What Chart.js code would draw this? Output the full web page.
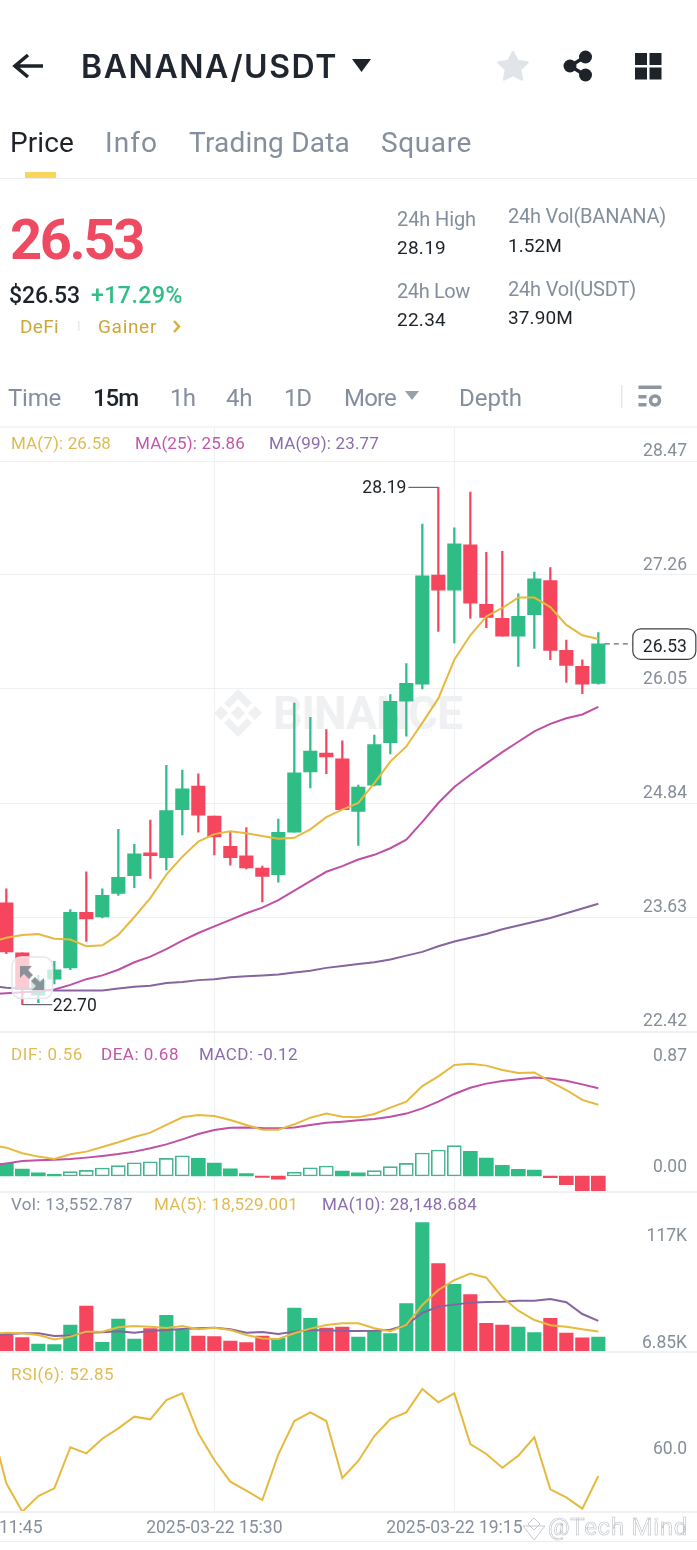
<!DOCTYPE html>
<html>
<head>
<meta charset="utf-8">
<title>BANANA/USDT</title>
<script src="https://cdn.jsdelivr.net/npm/chart.js@4"></script>
<style>
    html, body { margin: 0; padding: 0; background: #fff; }
    body { position: relative; width: 697px; height: 1550px; overflow: hidden; font-family: Roboto, sans-serif; }
    canvas { position: absolute; left: -130px; }
    .t { position: absolute; white-space: nowrap; line-height: 1; transform: translateY(-50%); }
    .rule { position: absolute; left: 0; width: 697px; }
    svg.layer { position: absolute; left: 0; top: 0; }
</style>
</head>
<body>
<svg class="layer" id="logoLayer" width="697" height="1550">
    <g fill="#eff0f2">
        <polygon points="238,706 245,713 238,720 231,713"/>
        <polygon points="221,706 228,713 221,720 214,713"/>
        <polygon points="255,706 262,713 255,720 248,713"/>
        <polygon points="238,689 252,703 247,708 238,699 229,708 224,703"/>
        <polygon points="238,737 252,723 247,718 238,727 229,718 224,723"/>
    </g>
</svg>
<div id="wm"></div>
<canvas id="mainChart" width="833" height="664" style="top:398px"></canvas>
<canvas id="macdChart" width="833" height="220" style="top:1002px"></canvas>
<canvas id="volChart" width="833" height="220" style="top:1162px"></canvas>
<canvas id="rsiChart" width="833" height="230" style="top:1322px"></canvas>

<div class="rule" style="top:178px;height:1px;background:#eaecef"></div>
<div class="rule" style="top:426px;height:2px;background:#f4f5f7"></div>
<div class="rule" style="top:1032px;height:1px;background:#eef0f2"></div>
<div class="rule" style="top:1191px;height:2px;background:#f1f2f4"></div>
<div class="rule" style="top:1351px;height:2px;background:#f1f2f4"></div>
<div class="rule" style="top:1511px;height:2px;background:#f1f2f4"></div>
<div class="rule" style="top:1541px;height:1px;background:#eaecef"></div>

<svg class="layer" width="697" height="1550">
    <path d="M43 66 H16 M28 55 L15 66 L28 77" fill="none" stroke="#1e2329" stroke-width="3.6"/>
    <polygon points="352,59 371,59 361.5,72" fill="#1e2329"/>
    <polygon points="513,52 517.5,61 527.5,62.5 520,69.5 522,79.5 513,75 504,79.5 506,69.5 498.500,62.500 508.500,61" fill="#e1e4e8" stroke="#e1e4e8" stroke-width="2.500" stroke-linejoin="round"/>
    <path d="M585 57 L570 66 L585 75" fill="none" stroke="#1e2329" stroke-width="3.500"/>
    <circle cx="570" cy="66" r="6.500" fill="#1e2329"/>
    <circle cx="585.500" cy="57" r="6.500" fill="#1e2329"/>
    <circle cx="585.500" cy="75" r="6.500" fill="#1e2329"/>
    <rect x="635" y="53" width="12" height="12" fill="#1e2329"/>
    <rect x="649.500" y="53" width="12" height="12" fill="#1e2329"/>
    <rect x="635" y="67.500" width="12" height="12" fill="#1e2329"/>
    <rect x="649.500" y="67.500" width="12" height="12" fill="#1e2329"/>
    <rect x="25" y="172" width="31" height="6" fill="#f8d65c"/>
    <rect x="78" y="321" width="1.500" height="10" fill="#e8eaed"/>
    <polyline points="174,321 179,326.500 174,332" fill="none" stroke="#d4b13e" stroke-width="2.500"/>
    <polygon points="405,391 419,391 412,400" fill="#9aa1ab"/>
    <rect x="621" y="385" width="1.500" height="23" fill="#e6e8ea"/>
    <g fill="#8e96a2">
        <rect x="638.500" y="385.500" width="23" height="3.500"/>
        <rect x="638.500" y="395" width="8" height="3.500"/>
        <rect x="638.500" y="403" width="8" height="3.500"/>
    </g>
    <circle cx="655" cy="400.500" r="4.500" fill="none" stroke="#8e96a2" stroke-width="3.500"/>

    <!-- zoom button over the chart -->
    <rect x="12" y="957" width="40.500" height="41.500" rx="9" fill="rgba(255,255,255,.72)" stroke="#e6e8ea" stroke-width="1.500"/>
    <g fill="#8d9199">
        <polygon points="20,966 32,966 28,970 33,975 29,979 24,974 20,978"/>
        <polygon points="44,990 32,990 36,986 31,981 35,977 40,982 44,978"/>
    </g>
    <!-- corner stamp -->
    <g fill="#fff" stroke="#c4c8cc" stroke-width="1">
        <polygon points="534,1518 540,1524 534,1530 528,1524"/>
        <polygon points="534,1526 545,1526 534,1540 523,1526" fill="none"/>
    </g>
</svg>

<script>
// candles, slot 0 is the first candle on the left
const candleOpen = [23.78, 23.25, 22.80, 22.97, 23.09, 23.68, 23.63, 23.88, 24.07, 24.31, 24.26, 24.77, 25.02, 24.70, 24.38, 24.28, 24.15, 24.08, 24.53, 25.17, 25.37, 25.31, 24.75, 25.03, 25.48, 25.92, 26.10, 27.26, 27.10, 27.58, 26.95, 26.80, 26.61, 26.84, 27.20, 26.46, 26.29, 26.11];
const candleClose = [23.26, 22.86, 22.96, 23.07, 23.68, 23.61, 23.86, 24.05, 24.30, 24.28, 24.76, 24.99, 24.71, 24.48, 24.26, 24.15, 24.06, 24.53, 25.16, 25.39, 25.33, 24.77, 25.01, 25.46, 25.92, 26.11, 27.25, 27.10, 27.59, 26.96, 26.81, 26.61, 26.82, 27.22, 26.46, 26.30, 26.10, 26.53];
const candleHigh = [23.93, 23.25, 23.01, 23.16, 23.71, 24.11, 23.93, 24.56, 24.40, 24.66, 25.24, 25.19, 25.15, 24.70, 24.54, 24.58, 24.17, 24.67, 25.90, 25.75, 25.62, 25.50, 25.03, 25.56, 25.99, 26.32, 27.80, 28.19, 27.76, 28.14, 27.50, 27.51, 27.06, 27.29, 27.34, 26.57, 26.36, 26.65];
const candleLow = [23.24, 22.70, 22.72, 22.92, 23.07, 23.37, 23.62, 23.86, 23.94, 24.04, 24.13, 24.50, 24.53, 24.29, 24.18, 24.14, 23.79, 24.00, 24.53, 25.00, 25.15, 24.77, 24.39, 25.02, 25.36, 25.55, 26.05, 26.66, 26.54, 26.80, 26.70, 26.61, 26.29, 26.48, 26.36, 26.12, 26.00, 26.10];

// the lines start one slot earlier, off the left edge of the screen
const ma7 = [23.36, 23.41, 23.44, 23.45, 23.40, 23.39, 23.32, 23.33, 23.44, 23.63, 23.83, 24.08, 24.27, 24.43, 24.51, 24.54, 24.52, 24.49, 24.46, 24.47, 24.56, 24.69, 24.77, 24.84, 25.05, 25.28, 25.44, 25.69, 25.95, 26.36, 26.62, 26.82, 26.91, 27.02, 27.02, 26.92, 26.73, 26.62, 26.58];
const ma25 = [22.81, 22.82, 22.83, 22.84, 22.86, 22.91, 22.97, 23.01, 23.07, 23.15, 23.21, 23.29, 23.38, 23.46, 23.53, 23.60, 23.67, 23.73, 23.81, 23.91, 24.01, 24.11, 24.17, 24.24, 24.29, 24.36, 24.45, 24.64, 24.84, 25.01, 25.14, 25.26, 25.38, 25.49, 25.60, 25.68, 25.74, 25.78, 25.86];
const ma99 = [22.90, 22.88, 22.87, 22.86, 22.85, 22.85, 22.85, 22.85, 22.87, 22.89, 22.90, 22.93, 22.94, 22.96, 22.97, 22.99, 23.00, 23.01, 23.02, 23.04, 23.06, 23.09, 23.11, 23.13, 23.15, 23.18, 23.22, 23.26, 23.32, 23.37, 23.41, 23.45, 23.50, 23.54, 23.58, 23.62, 23.67, 23.72, 23.77];

const dif = [0.243, 0.222, 0.178, 0.152, 0.133, 0.170, 0.191, 0.227, 0.264, 0.306, 0.340, 0.400, 0.460, 0.478, 0.470, 0.439, 0.400, 0.363, 0.363, 0.405, 0.457, 0.489, 0.465, 0.460, 0.486, 0.536, 0.583, 0.705, 0.781, 0.870, 0.880, 0.865, 0.831, 0.807, 0.812, 0.739, 0.674, 0.596, 0.559];
const dea = [0.081, 0.099, 0.118, 0.123, 0.128, 0.133, 0.144, 0.157, 0.172, 0.191, 0.217, 0.248, 0.287, 0.329, 0.361, 0.379, 0.381, 0.376, 0.374, 0.381, 0.400, 0.418, 0.426, 0.436, 0.447, 0.465, 0.489, 0.530, 0.583, 0.643, 0.692, 0.724, 0.745, 0.758, 0.771, 0.765, 0.747, 0.718, 0.687];
const macd = [0.099, 0.055, 0.024, 0.013, 0.034, 0.044, 0.063, 0.081, 0.104, 0.112, 0.138, 0.159, 0.138, 0.102, 0.057, 0.018, -0.012, -0.024, 0.029, 0.065, 0.078, 0.039, 0.024, 0.042, 0.073, 0.099, 0.180, 0.204, 0.238, 0.193, 0.141, 0.084, 0.052, 0.047, -0.013, -0.068, -0.123, -0.123];

// volume in thousands
const volK = [15.06, 12.95, 7.23, 6.62, 24.39, 41.55, 8.73, 29.81, 11.74, 21.08, 33.12, 19.87, 14.45, 13.85, 9.94, 8.43, 14.45, 12.35, 39.75, 30.41, 21.68, 22.58, 13.55, 18.97, 16.56, 43.66, 117, 79.8, 61.1, 51.8, 25.9, 24.4, 22.6, 17.5, 30.4, 17.2, 12.9, 13.55];
const volMa5 = [16.3, 17.5, 16.9, 15.4, 11.4, 13.9, 18.4, 18.4, 22.3, 23.5, 22.9, 21.7, 23.5, 20.5, 22.0, 19.9, 15.4, 12.3, 11.7, 16.9, 21.1, 24.4, 25.9, 25.9, 21.4, 18.7, 24.4, 42.5, 56.0, 65.0, 70.8, 67.1, 49.4, 37.3, 28.9, 24.1, 22.9, 20.5, 18.529];
const volMa10 = [15.1, 16.0, 16.9, 16.9, 14.5, 14.8, 17.5, 17.8, 18.7, 17.5, 19.0, 19.9, 20.8, 21.4, 22.0, 20.5, 17.5, 18.1, 16.3, 18.4, 19.6, 19.6, 19.0, 19.0, 19.3, 20.2, 24.4, 35.5, 41.0, 42.8, 44.6, 45.2, 45.5, 46.4, 46.4, 47.9, 44.9, 34.3, 28.149];

const rsi6 = [74.4, 49.95, 38.7, 44.92, 47.96, 64.23, 61.85, 67.67, 71.77, 76.4, 75.34, 83.02, 85.66, 69.79, 59.21, 50.61, 47.04, 43.33, 61.46, 74.68, 78.12, 74.68, 52.06, 58.81, 68.73, 75.48, 78.12, 87.38, 82.09, 85.66, 65.56, 61.59, 56.16, 60.93, 68.2, 47.57, 44.39, 39.89, 52.86];

const priceTicks = [22.42, 23.63, 24.84, 26.05, 27.26, 28.47];
const macdTicks = [0, 0.87];
const rsiTicks = [60];
const timeTicks = ['2025-03-22 11:45', '2025-03-22 15:30', '2025-03-22 19:15'];
const lastPrice = 26.53;

const green = '#2ebd85';
const red = '#f6465d';
const yellow = '#e6b93f';
const pink = '#bf50a6';
const purple = '#86659f';
const gridColor = '#eef0f2';
const tickColor = '#868e9a';
const fontName = 'Roboto, sans-serif';
const tickSize = 17.5;

// slots run from -8 to 43 so the 11:45 label and the free space on the right fit
const firstSlot = -8;
const slotCount = 52;
const categories = [];
for (let i = 0; i < slotCount; i++) {
    const mins = 15 * 60 + 30 + (i + firstSlot - 13) * 15;
    const hh = String(Math.floor(mins / 60)).padStart(2, '0');
    const mm = String(mins % 60).padStart(2, '0');
    categories.push('2025-03-22 ' + hh + ':' + mm);
}

function pad(values, start) {
    const out = new Array(slotCount).fill(null);
    values.forEach((v, k) => { out[start + k - firstSlot] = v; });
    return out;
}

function isUp(slot) {
    const k = slot + firstSlot;
    return candleClose[k] >= candleOpen[k];
}

function lineSet(data, color, order) {
    return { type: 'line', data: pad(data, -1), borderColor: color, borderWidth: 2, pointRadius: 0, tension: 0, order: order };
}

function timeAxis(showLabels) {
    return {
        offset: true,
        afterBuildTicks: function (s) {
            s.ticks = s.ticks.filter(t => timeTicks.includes(categories[t.value]));
        },
        afterFit: function (s) {
            if (showLabels) s.height = 40;
        },
        grid: { offset: false, color: gridColor, drawTicks: false },
        border: { display: false },
        ticks: { display: showLabels, autoSkip: false, maxRotation: 0, padding: 6, color: tickColor, font: { family: fontName, size: tickSize } }
    };
}

function valueAxis(min, max, values, offset, label, showGrid) {
    return {
        position: 'right',
        min: min,
        max: max,
        afterBuildTicks: function (s) {
            s.ticks = values.map(v => ({ value: v }));
        },
        // labels float over the plot, the axis must not take any width
        afterFit: function (s) {
            s.width = 0;
        },
        grid: { display: showGrid, color: gridColor, drawTicks: false },
        border: { display: false },
        ticks: { mirror: true, autoSkip: false, padding: -15.3, labelOffset: offset, color: tickColor, font: { family: fontName, size: tickSize }, callback: label }
    };
}

function makeChart(id, datasets, scales, padBottom, plugins) {
    return new Chart(document.getElementById(id), {
        type: 'bar',
        data: { labels: categories, datasets: datasets },
        plugins: plugins || [],
        options: {
            responsive: false,
            animation: false,
            devicePixelRatio: 1,
            events: [],
            layout: { padding: { left: 0.33, right: 0.67, top: 30, bottom: padBottom } },
            datasets: { bar: { grouped: false } },
            plugins: { legend: { display: false }, tooltip: { enabled: false } },
            scales: scales
        }
    });
}

// high/low callouts and the last price tag
const priceNotes = {
    id: 'priceNotes',
    afterDatasetsDraw: function (chart) {
        const ctx = chart.ctx;
        const xs = chart.scales.x;
        const ys = chart.scales.y;
        const highSlot = candleHigh.indexOf(Math.max(...candleHigh)) - firstSlot;
        const lowSlot = candleLow.indexOf(Math.min(...candleLow)) - firstSlot;
        const lastSlot = candleClose.length - 1 - firstSlot;

        ctx.save();
        ctx.font = tickSize + 'px ' + fontName;
        ctx.textBaseline = 'middle';
        ctx.lineWidth = 1.2;
        ctx.strokeStyle = '#666b73';
        ctx.fillStyle = '#1e2329';

        const hx = xs.getPixelForValue(highSlot);
        const hy = ys.getPixelForValue(Math.max(...candleHigh));
        ctx.beginPath();
        ctx.moveTo(hx, hy);
        ctx.lineTo(hx - 30, hy);
        ctx.stroke();
        ctx.textAlign = 'right';
        ctx.fillText('28.19', hx - 32, hy + 1);

        const lx = xs.getPixelForValue(lowSlot);
        const ly = ys.getPixelForValue(Math.min(...candleLow));
        ctx.beginPath();
        ctx.moveTo(lx, ly);
        ctx.lineTo(lx + 30, ly);
        ctx.stroke();
        ctx.textAlign = 'left';
        ctx.fillText('22.70', lx + 30.500, ly + 2);

        const px = xs.getPixelForValue(lastSlot) + 6.500;
        const py = ys.getPixelForValue(lastPrice);
        ctx.setLineDash([5, 4]);
        ctx.beginPath();
        ctx.moveTo(px, py);
        ctx.lineTo(px + 28, py);
        ctx.stroke();
        ctx.setLineDash([]);
        ctx.beginPath();
        ctx.roundRect(px + 28, py - 15, 63, 30.500, 8);
        ctx.fillStyle = '#fff';
        ctx.fill();
        ctx.strokeStyle = '#3c4148';
        ctx.stroke();
        ctx.fillStyle = '#1e2329';
        ctx.textAlign = 'center';
        ctx.fillText(lastPrice.toFixed(2), px + 60, py + 3.500);
        ctx.restore();
    }
};

const pricePx = 1.21 / 114;
makeChart('mainChart', [
    lineSet(ma7, yellow, 1),
    lineSet(ma25, pink, 2),
    lineSet(ma99, purple, 3),
    {
        data: pad(candleOpen.map((o, k) => [o, candleClose[k]]), 0),
        backgroundColor: c => isUp(c.dataIndex) ? green : red,
        barThickness: 13.5,
        borderSkipped: false,
        order: 4
    },
    {
        data: pad(candleLow.map((l, k) => [l, candleHigh[k]]), 0),
        backgroundColor: c => isUp(c.dataIndex) ? green : red,
        barThickness: 1.6,
        borderSkipped: false,
        order: 5
    }
], {
    x: timeAxis(false),
    y: valueAxis(22.42 - pricePx, 28.47 + 33 * pricePx, priceTicks, -9, v => v.toFixed(2), true)
}, 30, [priceNotes]);

const macdPx = 127.6;
makeChart('macdChart', [
    lineSet(dif, yellow, 1),
    lineSet(dea, pink, 2),
    {
        data: pad(macd, 0),
        backgroundColor: function (c) {
            const k = c.dataIndex + firstSlot;
            if (macd[k] < 0) return red;
            return k > 0 && macd[k] > macd[k - 1] ? '#fff' : green;
        },
        borderColor: c => macd[c.dataIndex + firstSlot] < 0 ? red : '#45b58d',
        borderWidth: function (c) {
            const k = c.dataIndex + firstSlot;
            return k > 0 && macd[k] > 0 && macd[k] > macd[k - 1] ? 1.6 : 0;
        },
        barThickness: 14,
        borderSkipped: false,
        order: 3
    }
], {
    x: timeAxis(false),
    y: valueAxis(-16 / macdPx, 144 / macdPx, macdTicks, -8.8, v => v.toFixed(2), false)
}, 30);

// the two volume labels sit at different distances from their value, so two axes
const volMax = 160 / 1.107;
makeChart('volChart', [
    lineSet(volMa10, purple, 2),
    lineSet(volMa5, yellow, 1),
    {
        data: pad(volK, 0),
        backgroundColor: c => isUp(c.dataIndex) ? green : red,
        barThickness: 13.5,
        order: 3
    }
], {
    x: timeAxis(false),
    y: valueAxis(0, volMax, [117], 14, () => '117K', false),
    yLow: valueAxis(0, volMax, [6.85], -1.2, () => '6.85K', false)
}, 30);

makeChart('rsiChart', [
    lineSet(rsi6, yellow, 1)
], {
    x: timeAxis(true),
    y: valueAxis(60 - 54 / 2.52, 60 + 106 / 2.52, rsiTicks, -8.5, v => v.toFixed(1), false)
}, 0);

// page text: string, left, right, centre y, size, colour, weight, font
const gray = '#848e9c';
const dark = '#1e2329';
const pageTexts = [
    ['BANANA/USDT', 81, 338, 67, 32, '#202630', 600, 'Inter'],
    ['Price', 10, 74, 143, 28, dark, 400],
    ['Info', 105, 158, 143, 28, gray, 400],
    ['Trading Data', 189, 350, 143, 28, gray, 400],
    ['Square', 381, 472, 143, 28, gray, 400],
    ['26.53', 10, 143, 240, 56, '#ee4b62', 700],
    ['$26.53', 9, 80, 295, 23, dark, 500],
    ['+17.29%', 91, 183, 295, 23, green, 500],
    ['DeFi', 20, 59, 326, 19, '#c9a93d', 400],
    ['Gainer', 98, 157, 326, 19, '#c9a93d', 400],
    ['24h High', 397, 476, 219, 20, gray, 400],
    ['28.19', 397, 446, 247, 19, dark, 400],
    ['24h Low', 397, 470, 291, 20, gray, 400],
    ['22.34', 397, 446, 319, 19, dark, 400],
    ['24h Vol(BANANA)', 508, 666, 216, 20, gray, 400],
    ['1.52M', 508, 562, 245, 19, dark, 400],
    ['24h Vol(USDT)', 508, 636, 289, 20, gray, 400],
    ['37.90M', 508, 573, 317, 19, dark, 400],
    ['Time', 8, 61, 398, 24, gray, 400],
    ['15m', 93, 138, 398, 24, dark, 500],
    ['1h', 170, 195, 398, 24, gray, 400],
    ['4h', 226, 252, 398, 24, gray, 400],
    ['1D', 284, 311, 398, 24, gray, 400],
    ['More', 344, 396, 398, 24, gray, 400],
    ['Depth', 459, 522, 398, 24, gray, 400],
    ['MA(7): 26.58', 11, 111, 443, 17, '#e0bb55', 400],
    ['MA(25): 25.86', 135, 245, 443, 17, '#c455a8', 400],
    ['MA(99): 23.77', 269, 379, 443, 17, '#8a6dac', 400],
    ['DIF: 0.56', 11, 83, 1054, 17, '#e0bb55', 400],
    ['DEA: 0.68', 101, 179, 1054, 17, '#c455a8', 400],
    ['MACD: -0.12', 199, 298, 1054, 17, '#8a6dac', 400],
    ['Vol: 13,552.787', 11, 133, 1204, 17, gray, 400],
    ['MA(5): 18,529.001', 154, 298, 1204, 17, '#e0bb55', 400],
    ['MA(10): 28,148.684', 322, 477, 1204, 17, '#8a6dac', 400],
    ['RSI(6): 52.85', 11, 114, 1374, 17, '#e0bb55', 400]
];

function putText(item, parent) {
    const el = document.createElement('span');
    el.className = 't';
    el.textContent = item[0];
    el.style.left = item[1] + 'px';
    el.style.top = item[3] + 'px';
    el.style.fontSize = item[4] + 'px';
    el.style.color = item[5];
    el.style.fontWeight = item[6];
    if (item[7]) el.style.fontFamily = item[7];
    parent.appendChild(el);
    // squeeze to the width seen in the screenshot
    const w = el.getBoundingClientRect().width;
    el.style.letterSpacing = ((item[2] - item[1] - w) / item[0].length) + 'px';
    return el;
}

pageTexts.forEach(item => putText(item, document.body));
putText(['BINANCE', 273, 462, 713, 46, '#eff0f2', 700], document.getElementById('wm'));

const stamp = putText(['@Tech Mind', 548, 688, 1527, 24, '#fff', 400], document.body);
stamp.style.webkitTextStroke = '0.6px #bcc0c5';
</script>
</body>
</html>
